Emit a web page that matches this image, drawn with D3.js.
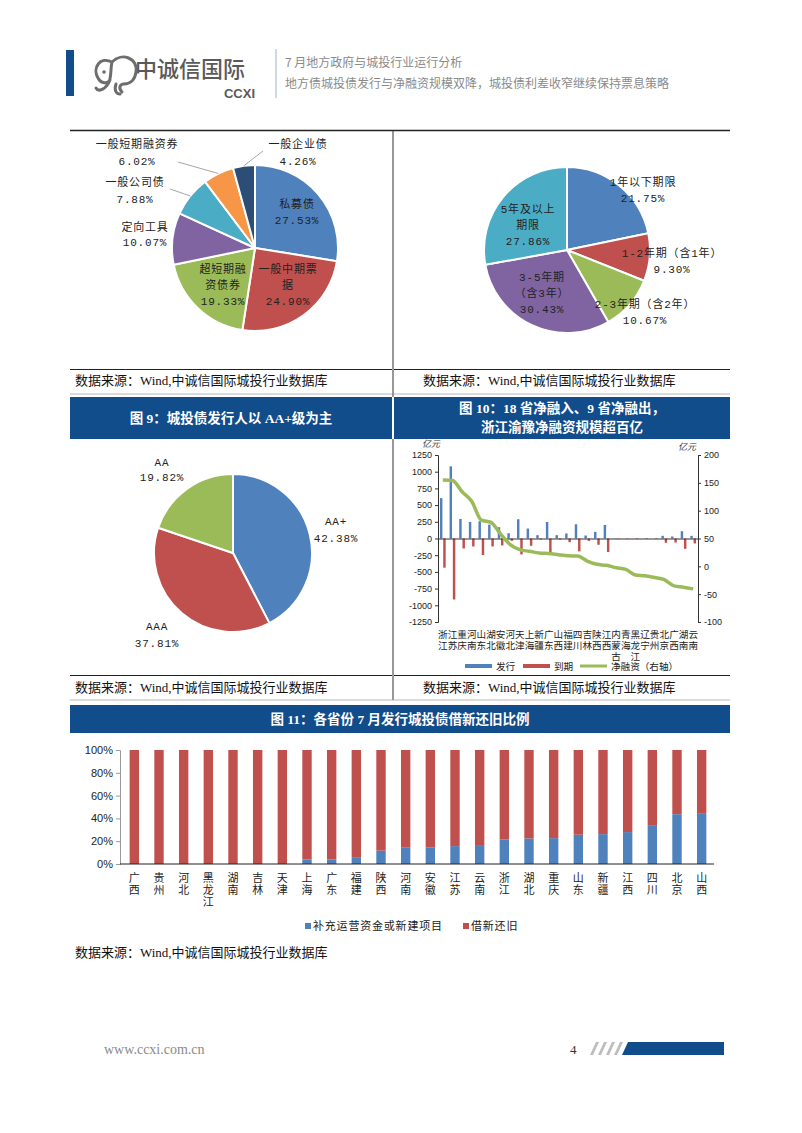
<!DOCTYPE html>
<html>
<head>
<meta charset="utf-8">
<script src="https://cdn.jsdelivr.net/npm/d3@7"></script>
<style>
  body { margin: 0; background: #fff; }
  svg { display: block; }
</style>
</head>
<body>
<svg id="page" width="802" height="1133"></svg>
<script>
// ---------- data ----------
const typeNames = ["私募债", "一般中期票据", "超短期融资债券", "定向工具", "一般公司债", "一般短期融资券", "一般企业债"];
const typeShares = [27.53, 24.90, 19.33, 10.07, 7.88, 6.02, 4.26];

const termNames = ["1年以下期限", "1-2年期（含1年）", "2-3年期（含2年）", "3-5年期（含3年）", "5年及以上期限"];
const termShares = [21.75, 9.30, 10.67, 30.43, 27.86];

const ratingNames = ["AA+", "AAA", "AA"];
const ratingShares = [42.38, 37.81, 19.82];

// fig 10: issuance / maturity (left axis), net financing (right axis), 亿元
const provinces10 = ["浙江", "江苏", "重庆", "河南", "山东", "湖北", "安徽", "河北", "天津", "上海", "新疆", "广东", "山西",
  "福建", "四川", "吉林", "陕西", "江西", "内蒙古", "青海", "黑龙江", "辽宁", "贵州", "北京", "广西", "湖南", "云南"];
const issue10 = [605, 1080, 293, 248, 258, 208, 169, 79, 288, 149, 50, 248, 50,
  75, 213, 45, 100, 203, 3, 0, 0, 0, 0, 40, 30, 109, 40];
const mature10 = [-437, -913, -149, -119, -248, -119, -104, -35, -238, -109, -15, -213, -15,
  -55, -193, -35, -94, -203, -5, -5, -8, -8, -8, -64, -60, -154, -74];
const net10 = [155, 154, 134, 117, 83, 79, 58, 39, 30, 27, 24, 23, 21,
  19, 18.5, 9.5, 3.6, 1.8, -2.4, -5.4, -15.5, -17, -20, -24, -35, -37.5, -40.5];
const leftTicks10 = [-1250, -1000, -750, -500, -250, 0, 250, 500, 750, 1000, 1250];
const rightTicks10 = [-100, -50, 0, 50, 100, 150, 200];

// fig 11: share of new-project / working capital use (rest = refinancing)
const provinces11 = ["广西", "贵州", "河北", "黑龙江", "湖南", "吉林", "天津", "上海", "广东", "福建", "陕西", "河南",
  "安徽", "江苏", "云南", "浙江", "湖北", "重庆", "山东", "新疆", "江西", "四川", "北京", "山西"];
const newShare11 = [0, 0, 0, 0, 0, 0, 0, 4, 4, 6, 11.7, 14.3,
  14.6, 15.7, 16.6, 21.6, 22.4, 22.7, 25.7, 26.2, 28, 33.5, 43.7, 44.6];
const pctTicks11 = [0, 20, 40, 60, 80, 100];

// ---------- styles ----------
const BLUE = "#4F81BD", RED = "#C0504D", GREEN = "#9BBB59", PURPLE = "#8064A2",
      CYAN = "#4BACC6", ORANGE = "#F79646", NAVY = "#2C4D75", HEAD = "#114C8B";
const CJK = "'Liberation Mono','Noto Sans CJK SC',sans-serif";
const SERIF = "'Liberation Serif','Noto Sans CJK SC',serif";
const SANS = "'Liberation Sans','Noto Sans CJK SC',sans-serif";

const svg = d3.select('#page');

/************ page header ************/
const hdr = svg.append('g');
hdr.append('rect').attr('x', 66).attr('y', 50).attr('width', 8).attr('height', 46).attr('fill', HEAD);
// rough elephant logo
hdr.append('path')
  .attr('d', 'M112,62 C100,56 92,68 98,78 C101,84 108,84 110,80 M112,62 C122,52 138,58 136,72 C135,80 130,84 124,84 C120,84 118,88 122,92 M112,62 C110,70 112,78 108,84 C104,90 98,92 96,88 M116,84 C114,90 116,94 120,94')
  .attr('fill', 'none').attr('stroke', '#6d6d6d').attr('stroke-width', 3).attr('stroke-linecap', 'round');
hdr.append('circle').attr('cx', 104).attr('cy', 72).attr('r', 1.8).attr('fill', '#6d6d6d');
hdr.append('text').attr('x', 135).attr('y', 77).text('中诚信国际')
  .attr('font-family', "'Noto Sans CJK SC'").attr('font-size', 22).attr('font-weight', 500).attr('fill', '#5a5a5a');
hdr.append('text').attr('x', 255).attr('y', 98).attr('text-anchor', 'end').text('CCXI')
  .attr('font-family', "'Liberation Sans'").attr('font-size', 13).attr('font-weight', 'bold').attr('fill', '#5a5a5a');
hdr.append('line').attr('x1', 276).attr('x2', 276).attr('y1', 49).attr('y2', 98).attr('stroke', '#9db3cc').attr('stroke-width', 1);
hdr.append('text').attr('x', 285).attr('y', 67).text('7 月地方政府与城投行业运行分析')
  .attr('font-family', "'Noto Sans CJK SC'").attr('font-size', 12).attr('fill', '#8a8a8a');
hdr.append('text').attr('x', 285).attr('y', 88).text('地方债城投债发行与净融资规模双降，城投债利差收窄继续保持票息策略')
  .attr('font-family', "'Noto Sans CJK SC'").attr('font-size', 12).attr('fill', '#8a8a8a');

/************ frame lines, titles, sources ************/
function hline(x1, x2, y, w, c) {
  svg.append('line').attr('x1', x1).attr('x2', x2).attr('y1', y).attr('y2', y)
    .attr('stroke', c || '#222').attr('stroke-width', w || 1);
}
function vline(x, y1, y2) {
  svg.append('line').attr('x1', x).attr('x2', x).attr('y1', y1).attr('y2', y2)
    .attr('stroke', '#333').attr('stroke-width', 1);
}
function source(x, y) {
  svg.append('text').attr('x', x).attr('y', y).attr('dominant-baseline', 'central')
    .text('数据来源：Wind,中诚信国际城投行业数据库')
    .attr('font-family', SERIF).attr('font-size', 13).attr('fill', '#111');
}
function titleBox(x, y, w, h, lines) {
  svg.append('rect').attr('x', x).attr('y', y).attr('width', w).attr('height', h).attr('fill', HEAD);
  const lh = 19, y0 = y + h / 2 - (lines.length - 1) * lh / 2;
  lines.forEach((t, i) => {
    svg.append('text').attr('x', x + w / 2).attr('y', y0 + i * lh).attr('dominant-baseline', 'central')
      .attr('text-anchor', 'middle').text(t)
      .attr('font-family', SERIF).attr('font-size', 13.5).attr('font-weight', 'bold').attr('fill', '#fff');
  });
}

hline(70, 730, 130.5, 1.5);
vline(393, 130, 397);
vline(393, 439, 700);
hline(70, 392, 369.5); hline(394, 730, 369.5);
source(75, 380); source(423, 380);
hline(70, 730, 394, 0.6, '#888');
titleBox(70, 397, 322, 42, ['图 9：城投债发行人以 AA+级为主']);
titleBox(394, 397, 336, 42, ['图 10：18 省净融入、9 省净融出，', '浙江渝豫净融资规模超百亿']);
hline(70, 392, 675.5); hline(394, 730, 675.5);
source(75, 687); source(423, 687);
hline(70, 730, 700, 0.6, '#888');
titleBox(70, 705, 660, 28, ['图 11：各省份 7 月发行城投债借新还旧比例']);
source(75, 952);

/************ pies ************/
function drawPie(cx, cy, r, values, colors, labels) {
  const g = svg.append('g').attr('transform', `translate(${cx},${cy})`);
  const arcs = d3.pie().sort(null).value(d => d)(values);
  const arc = d3.arc().innerRadius(0).outerRadius(r);
  g.selectAll('path.slice').data(arcs).enter().append('path').attr('class', 'slice')
    .attr('d', arc).attr('fill', (d, i) => colors[i])
    .attr('stroke', '#fff').attr('stroke-width', 2).attr('stroke-linejoin', 'round');
  arcs.forEach((a, i) => {
    const L = labels[i];
    if (L.leader) {
      const m = (a.startAngle + a.endAngle) / 2;
      g.append('line').attr('x1', r * Math.sin(m)).attr('y1', -r * Math.cos(m))
        .attr('x2', L.leader[0]).attr('y2', L.leader[1])
        .attr('stroke', '#a6a6a6').attr('stroke-width', 1);
    }
    L.lines.forEach((t, j) => {
      g.append('text').attr('x', L.at[0]).attr('y', L.at[1] + j * (L.lh || 16))
        .attr('text-anchor', 'middle').attr('dominant-baseline', 'central')
        .attr('letter-spacing', 0.8).text(t)
        .attr('font-family', CJK).attr('font-size', 11).attr('fill', '#222');
    });
  });
}

const fmt = v => v.toFixed(2) + '%';
drawPie(255, 248, 83, typeShares, [BLUE, RED, GREEN, PURPLE, CYAN, ORANGE, NAVY], [
  { lines: [typeNames[0], fmt(typeShares[0])], at: [42, -43] },
  { lines: ['一般中期票', '据', fmt(typeShares[1])], at: [33, 22] },
  { lines: ['超短期融', '资债券', fmt(typeShares[2])], at: [-32, 22] },
  { lines: [typeNames[3], fmt(typeShares[3])], at: [-110, -20], lh: 15 },
  { lines: [typeNames[4], fmt(typeShares[4])], at: [-120, -65], lh: 17, leader: [-85, -59] },
  { lines: [typeNames[5], fmt(typeShares[5])], at: [-118, -103], lh: 17, leader: [-77, -86] },
  { lines: [typeNames[6], fmt(typeShares[6])], at: [43, -103], lh: 17, leader: [8, -97] }
]);

drawPie(567, 250, 83, termShares, [BLUE, RED, GREEN, PURPLE, CYAN], [
  { lines: [termNames[0], fmt(termShares[0])], at: [76, -67] },
  { lines: [termNames[1], fmt(termShares[1])], at: [105, 4] },
  { lines: [termNames[2], fmt(termShares[2])], at: [78, 55] },
  { lines: ['3-5年期', '（含3年）', fmt(termShares[3])], at: [-25, 28] },
  { lines: ['5年及以上', '期限', fmt(termShares[4])], at: [-39, -40] }
]);

drawPie(233, 553, 79, ratingShares, [BLUE, RED, GREEN], [
  { lines: [ratingNames[0], fmt(ratingShares[0])], at: [103, -31], lh: 17 },
  { lines: [ratingNames[1], fmt(ratingShares[1])], at: [-76, 74], lh: 17 },
  { lines: [ratingNames[2], fmt(ratingShares[2])], at: [-71, -90], lh: 15 }
]);

/************ fig 10: bars + net line ************/
(function () {
  const g = svg.append('g');
  const x = d3.scaleBand().domain(provinces10).range([438, 698]);
  const sub = d3.scaleBand().domain(['issue', 'mature']).range([0, x.bandwidth()])
    .paddingInner(0.25).paddingOuter(0.6);
  const yL = d3.scaleLinear().domain([-1250, 1250]).range([622, 455]);
  const yR = d3.scaleLinear().domain([-100, 200]).range([622, 455]);

  const rows = provinces10.map((p, i) => ({ p, issue: issue10[i], mature: mature10[i], net: net10[i] }));

  g.selectAll('rect.iss').data(rows).enter().append('rect')
    .attr('x', d => x(d.p) + sub('issue')).attr('width', sub.bandwidth())
    .attr('y', d => yL(Math.max(0, d.issue))).attr('height', d => Math.abs(yL(d.issue) - yL(0)))
    .attr('fill', BLUE);
  g.selectAll('rect.mat').data(rows).enter().append('rect')
    .attr('x', d => x(d.p) + sub('mature')).attr('width', sub.bandwidth())
    .attr('y', yL(0)).attr('height', d => Math.abs(yL(d.mature) - yL(0)))
    .attr('fill', RED);

  const axL = g.append('g').attr('transform', 'translate(438,0)')
    .call(d3.axisLeft(yL).tickValues(leftTicks10).tickSize(3).tickFormat(d => String(d)));
  const axR = g.append('g').attr('transform', 'translate(698,0)')
    .call(d3.axisRight(yR).tickValues(rightTicks10).tickSize(3).tickFormat(d => String(d)));
  const ax0 = g.append('g').attr('transform', `translate(0,${yL(0)})`)
    .call(d3.axisBottom(x).tickSize(0).tickFormat(''));
  [axL, axR, ax0].forEach(a => {
    a.select('.domain').attr('stroke', '#333');
    a.selectAll('line').attr('stroke', '#333');
    a.selectAll('text').attr('font-family', SANS).attr('font-size', 9).attr('fill', '#222');
  });

  g.append('path').datum(rows)
    .attr('d', d3.line().x(d => x(d.p) + x.bandwidth() / 2).y(d => yR(d.net)).curve(d3.curveMonotoneX))
    .attr('fill', 'none').attr('stroke', GREEN).attr('stroke-width', 3.5);

  // unit labels
  g.append('text').attr('x', 440).attr('y', 447).attr('text-anchor', 'end').text('亿元')
    .attr('font-family', SERIF).attr('font-size', 9).attr('font-style', 'italic').attr('fill', '#333');
  g.append('text').attr('x', 696).attr('y', 450).attr('text-anchor', 'end').text('亿元')
    .attr('font-family', SERIF).attr('font-size', 9).attr('font-style', 'italic').attr('fill', '#333');

  // vertical province names
  rows.forEach(d => {
    Array.from(d.p).forEach((ch, j) => {
      g.append('text').attr('x', x(d.p) + x.bandwidth() / 2).attr('y', 634 + j * 11)
        .attr('text-anchor', 'middle').attr('dominant-baseline', 'central').text(ch)
        .attr('font-family', SERIF).attr('font-size', 9.6).attr('fill', '#222');
    });
  });

  // legend
  const lg = [
    { t: '发行', c: BLUE, x: 465, h: 4 },
    { t: '到期', c: RED, x: 523, h: 4 },
    { t: '净融资（右轴）', c: GREEN, x: 580, h: 3 }
  ];
  lg.forEach(l => {
    g.append('rect').attr('x', l.x).attr('y', 666 - l.h / 2).attr('width', 27).attr('height', l.h).attr('fill', l.c);
    g.append('text').attr('x', l.x + 31).attr('y', 666).attr('dominant-baseline', 'central').text(l.t)
      .attr('font-family', SERIF).attr('font-size', 9.6).attr('fill', '#222');
  });
})();

/************ fig 11: stacked 100% bars ************/
(function () {
  const g = svg.append('g');
  const x = d3.scaleBand().domain(provinces11).range([122, 714]).paddingInner(0.62).paddingOuter(0.31);
  const y = d3.scaleLinear().domain([0, 100]).range([864, 750]);
  const rows = provinces11.map((p, i) => ({ p, a: newShare11[i], b: 100 - newShare11[i] }));
  const stack = d3.stack().keys(['a', 'b'])(rows);
  const cols = [BLUE, RED];

  g.selectAll('g.layer').data(stack).enter().append('g').attr('fill', (d, i) => cols[i])
    .selectAll('rect').data(d => d).enter().append('rect')
    .attr('x', d => x(d.data.p)).attr('width', x.bandwidth())
    .attr('y', d => y(d[1])).attr('height', d => y(d[0]) - y(d[1]));

  const ay = g.append('g').attr('transform', 'translate(120,0)')
    .call(d3.axisLeft(y).tickValues(pctTicks11).tickSize(4).tickFormat(d => d + '%'));
  ay.select('.domain').attr('stroke', '#999');
  ay.selectAll('line').attr('stroke', '#999');
  ay.selectAll('text').attr('font-family', SANS).attr('font-size', 11).attr('fill', '#222');

  const ax = g.append('g').attr('transform', 'translate(0,864)')
    .call(d3.axisBottom(x).tickSize(0).tickFormat(''));
  ax.select('.domain').attr('d', 'M120,0H714').attr('stroke', '#222');

  rows.forEach(d => {
    Array.from(d.p).forEach((ch, j) => {
      g.append('text').attr('x', x(d.p) + x.bandwidth() / 2).attr('y', 878 + j * 12)
        .attr('text-anchor', 'middle').attr('dominant-baseline', 'central').text(ch)
        .attr('font-family', SERIF).attr('font-size', 11).attr('fill', '#222');
    });
  });

  const lg = [
    { t: '补充运营资金或新建项目', c: BLUE, x: 305 },
    { t: '借新还旧', c: RED, x: 463 }
  ];
  lg.forEach(l => {
    g.append('rect').attr('x', l.x).attr('y', 923).attr('width', 6).attr('height', 6).attr('fill', l.c);
    g.append('text').attr('x', l.x + 8).attr('y', 926).attr('dominant-baseline', 'central').text(l.t)
      .attr('letter-spacing', 0.8)
      .attr('font-family', SERIF).attr('font-size', 11).attr('fill', '#222');
  });
})();

/************ footer ************/
svg.append('text').attr('x', 104).attr('y', 1054).text('www.ccxi.com.cn')
  .attr('font-family', "'Liberation Serif'").attr('font-size', 14).attr('fill', '#8a8a8a');
svg.append('text').attr('x', 570).attr('y', 1054).text('4')
  .attr('font-family', "'Liberation Serif'").attr('font-size', 13).attr('fill', '#333');
[0, 1, 2, 3].forEach(i => {
  const x0 = 590 + i * 8;
  svg.append('path').attr('d', `M${x0},1055 L${x0 + 6},1042 L${x0 + 9},1042 L${x0 + 3},1055 Z`).attr('fill', '#bdbdbd');
});
svg.append('path').attr('d', 'M622,1055 L628,1042 L724,1042 L724,1055 Z').attr('fill', HEAD);
</script>
</body>
</html>
